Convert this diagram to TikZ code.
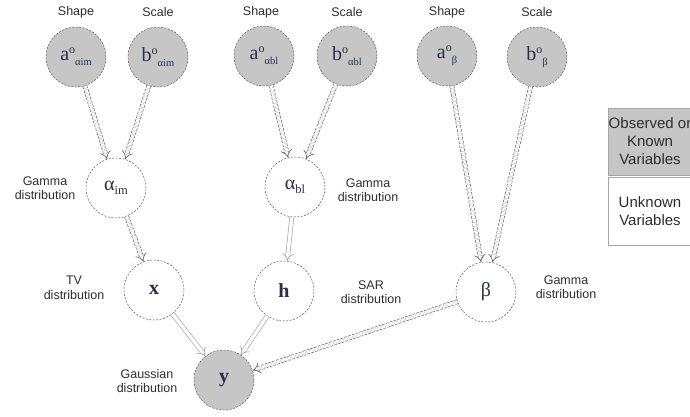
\documentclass[tikz,border=0pt]{standalone}
\usepackage{fontspec}
\setmainfont{Liberation Serif}
\setsansfont{Liberation Sans}
\usetikzlibrary{arrows.meta}
\definecolor{nodeink}{RGB}{40,46,72}
\definecolor{labelink}{RGB}{45,45,45}
\definecolor{rim}{RGB}{85,85,85}
\newcommand{\hyper}[2]{#1\raisebox{0.75ex}{\fontsize{12}{12}\selectfont o}%
  \raisebox{-0.55ex}{\fontsize{10.5}{10.5}\selectfont #2}}
\newcommand{\param}[2]{#1\raisebox{-0.45ex}{\fontsize{12.5}{12.5}\selectfont #2}}
\tikzset{
  var/.style={circle, draw=rim, dash pattern=on 2pt off 1.5pt, line width=0.5pt,
    minimum size=60pt, inner sep=0pt, text=nodeink, font=\fontsize{20}{20}\selectfont},
  known/.style={var, fill=gray!45},
  unknown/.style={var, fill=white},
  lbl/.style={font=\sffamily\fontsize{12.5}{14.5}\selectfont, text=labelink, align=center},
  legend/.style={rectangle, draw=gray!70, line width=0.8pt, minimum width=84pt,
    inner sep=0pt, align=center, text=labelink, font=\sffamily\fontsize{15}{18}\selectfont},
  link/.style={draw=rim, line width=0.6pt, double=white, double distance=3.5pt,
    dash pattern=on 2.5pt off 1.5pt, -{Implies}},
  plainlink/.style={draw=gray!75, line width=0.6pt, double=white, double distance=3.5pt,
    -{Implies}},
}
\begin{document}
\begin{tikzpicture}[x=1pt, y=-1pt]
  \useasboundingbox (0,0) rectangle (690,416);
  \clip (0,0) rectangle (690,416);
  \draw
    (76,57) node[known] (aim) {\hyper{a}{αim}}
    (158,57) node[known] (bim) {\hyper{b}{αim}}
    (264,56) node[known] (abl) {\hyper{a}{αbl}}
    (347,56) node[known] (bbl) {\hyper{b}{αbl}}
    (447,56) node[known] (abeta) {\hyper{a}{β}}
    (537,57) node[known] (bbeta) {\hyper{b}{β}}
    (116,188) node[unknown] (alphaim) {\param{α}{im}}
    (295,187) node[unknown] (alphabl) {\param{α}{bl}}
    (154,290) node[unknown] (x) {\textbf{x}}
    (284,291) node[unknown] (h) {\textbf{h}}
    (486,292) node[unknown] (beta) {β}
    (224,380) node[known] (y) {\textbf{y}};
  \node[lbl] (shapeim) at (76,12) {Shape};
  \node[lbl] (scaleim) at (158,12) {Scale};
  \node[lbl] (shapebl) at (261,12) {Shape};
  \node[lbl] (scalebl) at (347,12) {Scale};
  \node[lbl] (shapebeta) at (447,12) {Shape};
  \node[lbl] (scalebeta) at (537,12) {Scale};
  \node[lbl] (distim) at (45,188) {Gamma\\distribution};
  \node[lbl] (distbl) at (368,190) {Gamma\\distribution};
  \node[lbl] (distx) at (74,288) {TV\\distribution};
  \node[lbl] (disth) at (371,292) {SAR\\distribution};
  \node[lbl] (distbeta) at (566,287) {Gamma\\distribution};
  \node[lbl] (disty) at (147,381) {Gaussian\\distribution};
  \node[legend, fill=gray!45, minimum height=67pt] (observed) at (650,141.5)
    {Observed or\\Known\\Variables};
  \node[legend, fill=white, minimum height=68pt] (unknownvars) at (650,211)
    {Unknown\\Variables};
  % hyperparameters to parameters
  \draw[link] (aim) to (alphaim);
  \draw[link] (bim) to (alphaim);
  \draw[link] (abl) to (alphabl);
  \draw[link] (bbl) to (alphabl);
  \draw[link] (abeta) to (beta);
  \draw[link] (bbeta) to (beta);
  % parameters to image, blur and observation
  \draw[link] (alphaim) to (x);
  \draw[plainlink] (alphabl) to (h);
  \draw[plainlink] (x) to (y);
  \draw[plainlink] (h) to (y);
  \draw[link] (beta) to (y);
\end{tikzpicture}
\end{document}
